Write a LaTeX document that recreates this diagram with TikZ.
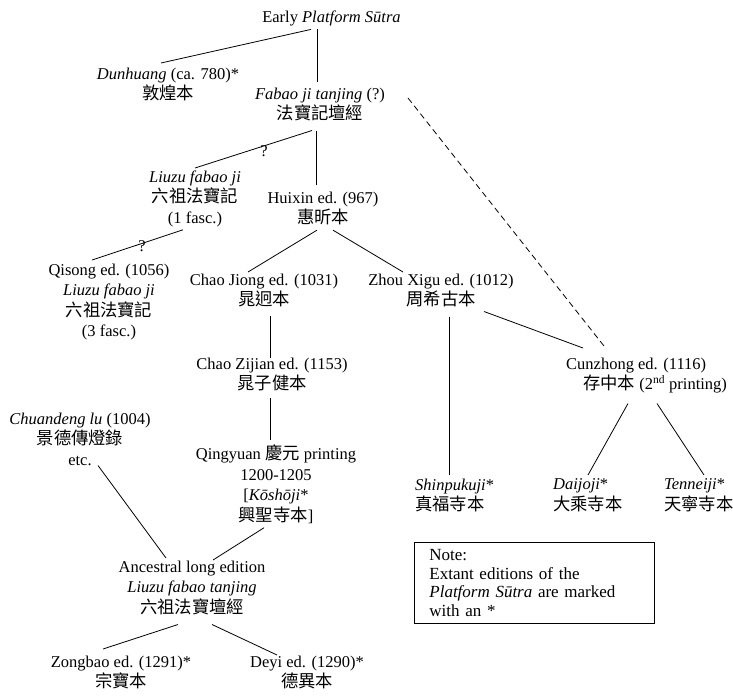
\documentclass[tikz,border=0pt]{standalone}
\usepackage{fontspec}
\setmainfont{Liberation Serif}
\newfontfamily\cjk[Scale=1.05]{Noto Sans CJK TC}
\newcommand\fs{\fontsize{16.5}{20.5}\selectfont}
\newcommand\fsnote{\fontsize{17}{18.6}\selectfont}
\begin{document}
\begin{tikzpicture}[x=1pt,y=-1pt,
  txt/.style={inner sep=0pt, align=center, font=\fs, anchor=north,
    execute at begin node=\strut, execute at end node=\strut},
  ltxt/.style={txt, align=left, anchor=north west},
  qmark/.style={inner sep=0pt, font=\fs},
  link/.style={line width=0.8pt},
  dlink/.style={line width=0.8pt, dash pattern=on 6pt off 4pt},
  notebox/.style={draw, line width=0.8pt, anchor=north west, font=\fsnote,
    align=left, text width=210pt, inner xsep=15pt, inner ysep=0pt, minimum height=81pt}]
\useasboundingbox (0,0) rectangle (733,697);

\node[txt] (early) at (331.5,7.65) {Early \textit{Platform Sūtra}};
\node[txt] (dun) at (168,67.65) {\textit{Dunhuang} (ca. 780)*\\{\cjk 敦煌本}};
\node[txt] (fabao) at (320,87.65) {\textit{Fabao ji tanjing} (?)\\{\cjk 法寶記壇經}};
\node[txt] (liuzu) at (195,170.65) {\textit{Liuzu fabao ji}\\{\cjk 六祖法寶記}\\(1 fasc.)};
\node[txt] (huixin) at (323,191.65) {Huixin ed. (967)\\{\cjk 惠昕本}};
\node[txt] (qisong) at (109,263.65) {Qisong ed. (1056)\\\textit{Liuzu fabao ji}\\{\cjk 六祖法寶記}\\(3 fasc.)};
\node[txt] (chaojiong) at (264,273.65) {Chao Jiong ed. (1031)\\{\cjk 晁迥本}};
\node[txt] (zhou) at (441,273.65) {Zhou Xigu ed. (1012)\\{\cjk 周希古本}};
\node[txt] (chaozijian) at (272,357.65) {Chao Zijian ed. (1153)\\{\cjk 晁子健本}};
\node[ltxt] (cunzhong) at (566,357.65) {Cunzhong ed. (1116)\\\hspace*{17pt}{\cjk 存中本} (2\textsuperscript{nd} printing)};
\node[txt] (qingyuan) at (276,444.65) {Qingyuan {\cjk 慶元} printing\\1200-1205\\{[}\textit{Kōshōji}*\\{\cjk 興聖寺本}]};
\node[txt] (chuan) at (80,412.65) {\textit{Chuandeng lu} (1004)\\{\cjk 景德傳燈錄}\\etc.};
\node[txt] (ancestral) at (192,560.65) {Ancestral long edition\\\textit{Liuzu fabao tanjing}\\{\cjk 六祖法寶壇經}};
\node[txt] (zongbao) at (121,655.65) {Zongbao ed. (1291)*\\{\cjk 宗寶本}};
\node[txt] (deyi) at (307,655.65) {Deyi ed. (1290)*\\{\cjk 德異本}};
\node[ltxt] (shin) at (415,478.65) {\textit{Shinpukuji}*\\{\cjk 真福寺本}};
\node[ltxt] (daijo) at (553,478.65) {\textit{Daijoji}*\\{\cjk 大乘寺本}};
\node[ltxt] (tennei) at (664,478.65) {\textit{Tenneiji}*\\{\cjk 天寧寺本}};
\node[notebox] (note) at (414,542) {Note:\\Extant editions of the\\\textit{Platform Sūtra} are marked\\with an *};

\node[qmark] (q1) at (264,151) {?};
\node[qmark] (q2) at (142,246) {?};

\draw[link] ([shift={(-20.5,0.85)}]early.south) -- ([shift={(-7,-4.65)}]dun.north);
\draw[link] ([shift={(-14.5,0.85)}]early.south) -- ([shift={(-3,-5.65)}]fabao.north);
\draw[link] ([shift={(-8,4.35)}]fabao.south) -- ([shift={(0,-2.65)}]liuzu.north);
\draw[link] ([shift={(-4,4.35)}]fabao.south) -- ([shift={(-7,-6.65)}]huixin.north);
\draw[dlink] ([shift={(88,10.35)}]fabao.north) -- ([shift={(38,-11.65)}]cunzhong.north west);
\draw[link] ([shift={(-12,0)}]liuzu.south) -- ([shift={(-17,-3.65)}]qisong.north);
\draw[link] ([shift={(-6,0)}]huixin.south) -- ([shift={(-16,-1.65)}]chaojiong.north);
\draw[link] ([shift={(10,0)}]huixin.south) -- ([shift={(-38,-1.65)}]zhou.north);
\draw[link] ([shift={(6,3.35)}]chaojiong.south) -- ([shift={(-2,0.35)}]chaozijian.north);
\draw[link] ([shift={(43,-0.65)}]zhou.south) -- ([shift={(17,-9.65)}]cunzhong.north west);
\draw[link] ([shift={(8,4.35)}]zhou.south) -- ([shift={(34,-3.65)}]shin.north west);
\draw[link] ([shift={(-2,1.35)}]chaozijian.south) -- ([shift={(-6,-4.65)}]qingyuan.north);
\draw[link] ([shift={(62,7.35)}]cunzhong.south west) -- ([shift={(35,-3.65)}]daijo.north west);
\draw[link] ([shift={(91,7.35)}]cunzhong.south west) -- ([shift={(40,-3.65)}]tennei.north west);
\draw[link] ([shift={(18,-6.15)}]chuan.south) -- ([shift={(-26,-2.65)}]ancestral.north);
\draw[link] ([shift={(-12,0.35)}]qingyuan.south) -- ([shift={(21,-0.65)}]ancestral.north);
\draw[link] ([shift={(-14,4.85)}]ancestral.south) -- ([shift={(-18,-6.65)}]zongbao.north);
\draw[link] ([shift={(20,4.85)}]ancestral.south) -- ([shift={(-30,-0.65)}]deyi.north);
\end{tikzpicture}
\end{document}
